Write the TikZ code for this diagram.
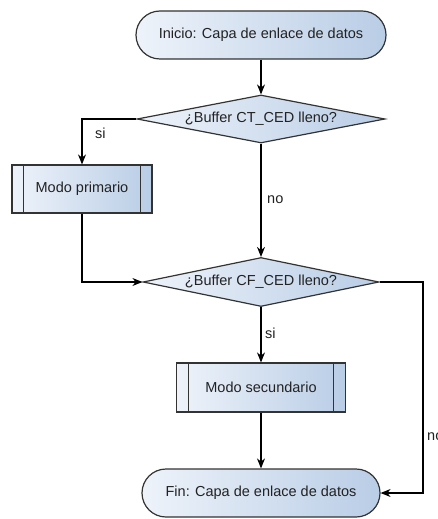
\documentclass[tikz,border=0pt]{standalone}
\usepackage{fontspec}
\setmainfont{Liberation Sans}
\usetikzlibrary{shapes.geometric,arrows.meta}
\definecolor{lightfill}{HTML}{EEF3FA}
\definecolor{darkfill}{HTML}{B9CDE6}
\definecolor{edgegrey}{HTML}{333333}
\definecolor{textgrey}{HTML}{222222}
\tikzset{
  base/.style={draw=edgegrey, line width=1.2bp, left color=lightfill, right color=darkfill,
    text=textgrey, font=\fontsize{14.5bp}{17bp}\selectfont, inner sep=0pt},
  term/.style={base, rectangle, rounded corners=24bp, minimum height=48bp},
  decision/.style={base, diamond, shape aspect=5},
  subproc/.style={base, rectangle, minimum height=48bp},
  arr/.style={draw=black, line width=1.1bp, -{Stealth[length=10bp,width=8bp]}},
  lbl/.style={text=textgrey, font=\fontsize{14.5bp}{17bp}\selectfont, anchor=west, inner sep=0pt}
}
\begin{document}
\begin{tikzpicture}[x=1bp,y=-1bp]
\useasboundingbox (0,0) rectangle (438,519);
\node[term, minimum width=250bp] (ini) at (261,35) {Inicio: Capa de enlace de datos};
\node[decision, minimum width=248bp, minimum height=48bp] (d1) at (261,119) {¿Buffer CT\_CED lleno?};
\node[subproc, minimum width=140bp] (mp) at (82,189) {Modo primario};
\node[decision, minimum width=236bp, minimum height=49bp] (d2) at (261,282) {¿Buffer CF\_CED lleno?};
\node[subproc, minimum width=169bp, minimum height=49bp] (ms) at (261,387.5) {Modo secundario};
\node[term, minimum width=238bp] (fin) at (261,493) {Fin: Capa de enlace de datos};
\foreach \n in {mp,ms}{
  \draw[draw=edgegrey, line width=1.2bp] ([xshift=12.5bp]\n.north west) -- ([xshift=12.5bp]\n.south west);
  \draw[draw=edgegrey, line width=1.2bp] ([xshift=-12.5bp]\n.north east) -- ([xshift=-12.5bp]\n.south east);
}
\coordinate (r) at (423,282);
\draw[arr] (ini.south) -- (d1.north);
\draw[arr] (d1.west) -| (mp.north);
\draw[arr] (d1.south) -- (d2.north);
\draw[arr] (mp.south) |- (d2.west);
\draw[arr] (d2.south) -- (ms.north);
\draw[arr] (ms.south) -- (fin.north);
\draw[arr] (d2.east) -- (r) |- (fin.east);
\node[lbl] (l1) at (95,133) {si};
\node[lbl] (l2) at (267,200) {no};
\node[lbl] (l3) at (265,333) {si};
\node[lbl] (l4) at (427,437) {no};
\end{tikzpicture}
\end{document}
